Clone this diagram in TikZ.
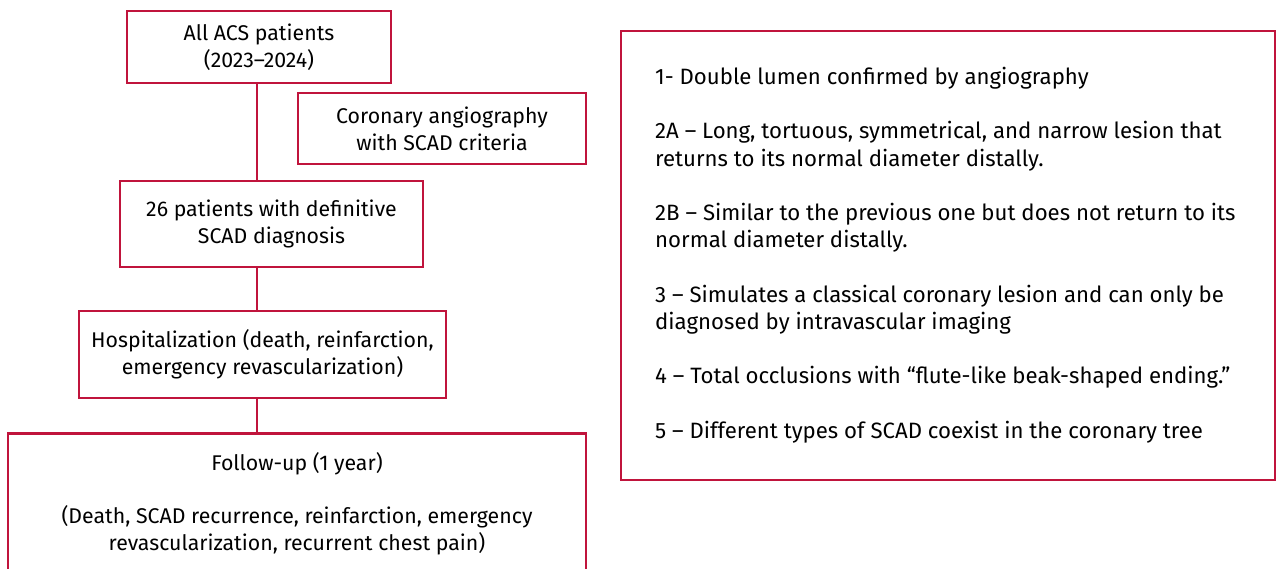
\documentclass[tikz,border=0pt]{standalone}
\usepackage{fontspec}
\setmainfont{Fira Sans}
\usetikzlibrary{positioning}
\definecolor{scadred}{RGB}{192,20,60}

\begin{document}
\begin{tikzpicture}[x=1pt, y=-1pt,
    box/.style={draw=scadred, line width=2.6pt, align=center, inner sep=0pt,
                font=\fontsize{21.3}{27}\selectfont},
    link/.style={draw=scadred, line width=2.6pt}]
    \useasboundingbox (0,0) rectangle (1276,569);
    \clip (0,0) rectangle (1276,569);
    \coordinate (spine) at (257,0);

    \node[box, minimum width=264pt, minimum height=72pt] (allacs) at (259,47)
        {All ACS patients\\(2023--2024)};
    \node[box, minimum width=288pt, minimum height=71pt] (angio) at (442,128.5)
        {Coronary angiography\\with SCAD criteria};
    \node[box, minimum width=303pt, minimum height=86pt] (scad26) at (271.5,224)
        {26 patients with definitive\\SCAD diagnosis};
    \node[box, minimum width=367pt, minimum height=87pt] (hosp) at (262.5,354.5)
        {Hospitalization (death, reinfarction,\\emergency revascularization)};
    \node[box, minimum width=578pt, minimum height=141pt, anchor=north] (followup) at (297,432)
        {Follow-up (1 year)\\[26pt](Death, SCAD recurrence, reinfarction, emergency\\revascularization, recurrent chest pain)};

    \draw[link] (allacs.south -| spine) -- (scad26.north -| spine);
    \draw[link] (scad26.south -| spine) -- (hosp.north -| spine);
    \draw[link] (hosp.south -| spine) -- (followup.north -| spine);

    % criteria box on the right
    \node[box, minimum width=654pt, minimum height=449pt] (criteria) at (948,255.5) {};
    \node[anchor=west, align=left, inner sep=0pt, font=\fontsize{22.2}{27.2}\selectfont] (critlist) at (655,255)
        {1- Double lumen confirmed by angiography\\[27.2pt]
         2A -- Long, tortuous, symmetrical, and narrow lesion that\\
         returns to its normal diameter distally.\\[27.2pt]
         2B -- Similar to the previous one but does not return to its\\
         normal diameter distally.\\[27.2pt]
         3 -- Simulates a classical coronary lesion and can only be\\
         diagnosed by intravascular imaging\\[27.2pt]
         4 -- Total occlusions with “flute-like beak-shaped ending.”\\[27.2pt]
         5 -- Different types of SCAD coexist in the coronary tree};
\end{tikzpicture}
\end{document}
